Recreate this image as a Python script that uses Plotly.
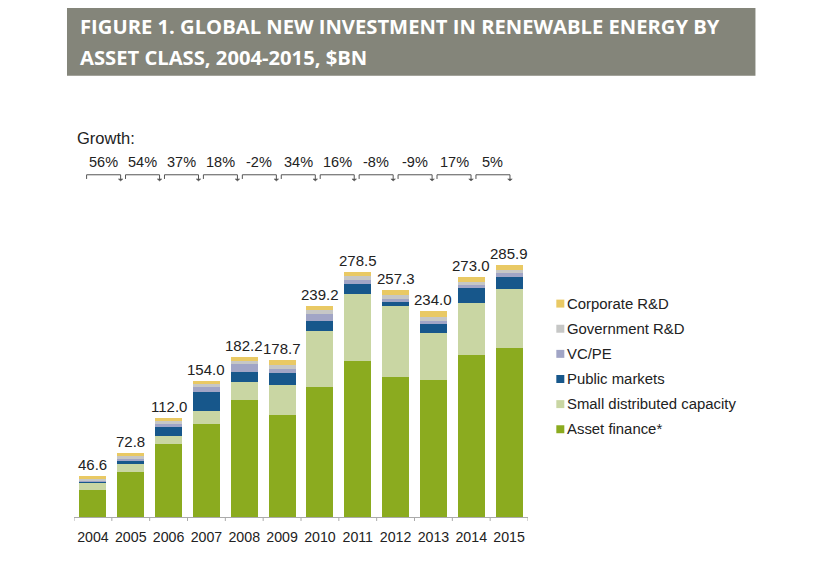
import plotly.graph_objects as go

years = ["2004", "2005", "2006", "2007", "2008", "2009", "2010", "2011", "2012", "2013", "2014", "2015"]
asset_finance = [31.0, 51.3, 83.0, 106.1, 132.4, 116.4, 147.9, 177.4, 159.2, 155.9, 184.2, 192.3]
small_distributed = [8.6, 9.4, 9.4, 14.7, 20.8, 34.0, 63.4, 76.2, 80.4, 53.6, 59.3, 67.2]
public_markets = [0.3, 3.8, 9.4, 21.1, 11.3, 13.2, 11.3, 10.6, 4.5, 10.2, 17.0, 13.2]
vc_pe = [0.6, 1.9, 3.8, 5.3, 8.7, 4.9, 8.3, 4.5, 3.0, 3.0, 3.0, 4.5]
government_rd = [2.4, 2.6, 3.4, 3.8, 4.5, 4.5, 3.8, 4.9, 4.5, 4.9, 3.8, 3.8]
corporate_rd = [3.7, 3.8, 3.0, 3.0, 4.5, 5.7, 4.5, 4.9, 5.7, 6.4, 5.7, 4.9]
totals = [46.6, 72.8, 112.0, 154.0, 182.2, 178.7, 239.2, 278.5, 257.3, 234.0, 273.0, 285.9]
growth = ["56%", "54%", "37%", "18%", "-2%", "34%", "16%", "-8%", "-9%", "17%", "5%"]

series = [
    ("Asset finance*", asset_finance, "#8bab1f"),
    ("Small distributed capacity", small_distributed, "#c9d6a3"),
    ("Public markets", public_markets, "#17578b"),
    ("VC/PE", vc_pe, "#a1a5c6"),
    ("Government R&D", government_rd, "#c6c7c6"),
    ("Corporate R&D", corporate_rd, "#e9c964"),
]

FONT = "Liberation Sans, Arial, sans-serif"
TXT = "#222222"

fig = go.Figure()
for name, vals, col in series:
    fig.add_trace(go.Bar(x=list(range(len(years))), y=vals, name=name,
                         marker=dict(color=col, line=dict(width=0)),
                         showlegend=False, hoverinfo="skip"))

# page offset of the plot div (body margin)
OFF = 8
# desired page-pixel geometry of the plot area
PL, PR, PT, PB = 74, 527.7, 199.6, 517.5
L = PL - OFF
T = PT - OFF
R_ = 815 - (PR - OFF)
B = 575 - (PB - OFF)
W = PR - PL
H = PB - PT


def px_to_paper_x(px):
    return (px - PL) / W


def py_to_paper_y(py):
    return (PB - py) / H


anns = []
shapes = []

# total labels
for i, tot in enumerate(totals):
    anns.append(dict(x=i, y=tot, xref="x", yref="y", text=f"{tot:.1f}", showarrow=False,
                     yanchor="bottom", yshift=1, font=dict(family=FONT, size=15, color=TXT)))

# banner
shapes.append(dict(type="rect", xref="paper", yref="paper", x0=px_to_paper_x(67), x1=px_to_paper_x(755),
                   y0=py_to_paper_y(75), y1=py_to_paper_y(7), fillcolor="#84857a", line=dict(width=0),
                   layer="below"))
for txt, cy in [("FIGURE 1. GLOBAL NEW INVESTMENT IN RENEWABLE ENERGY BY", 25),
                ("ASSET CLASS, 2004-2015, $BN", 56)]:
    anns.append(dict(x=px_to_paper_x(78), y=py_to_paper_y(cy), xref="paper", yref="paper", text=f"<b>{txt}</b>",
                     showarrow=False, xanchor="left", yanchor="middle",
                     font=dict(family="Liberation Sans Narrow, Open Sans, sans-serif", size=20.2, color="white")))

# growth row
anns.append(dict(x=px_to_paper_x(75), y=py_to_paper_y(137), xref="paper", yref="paper", text="Growth:",
                 showarrow=False, xanchor="left", yanchor="middle", font=dict(family=FONT, size=16.5, color=TXT)))
step = 38.9 / 37.8
blen = 34.0 / 37.8
x_start = -0.167
yt = py_to_paper_y(174.3)
yb = py_to_paper_y(178.5)
ya = py_to_paper_y(180.5)
for i, g in enumerate(growth):
    x0 = x_start + i * step
    x1 = x0 + blen
    anns.append(dict(x=(x0 + x1) / 2, y=py_to_paper_y(161.5), xref="x", yref="paper", text=g, showarrow=False,
                     xanchor="center", yanchor="middle", font=dict(family=FONT, size=14.5, color=TXT)))
    shapes.append(dict(type="path", xref="x", yref="paper",
                       path=f"M {x0},{yb} L {x0},{yt} L {x1},{yt} L {x1},{yb}",
                       line=dict(color="#555555", width=1)))
    shapes.append(dict(type="path", xref="x", yref="paper",
                       path=f"M {x1 - 0.06},{yb} L {x1 + 0.06},{yb} L {x1},{ya} Z",
                       fillcolor="#555555", line=dict(color="#555555", width=0.5)))

# manual legend
legend_rows = [("Corporate R&D", "#e9c964"), ("Government R&D", "#c6c7c6"), ("VC/PE", "#a1a5c6"),
               ("Public markets", "#17578b"), ("Small distributed capacity", "#c9d6a3"),
               ("Asset finance*", "#8bab1f")]
for k, (name, col) in enumerate(legend_rows):
    cy = 303.5 + k * 25.2
    shapes.append(dict(type="rect", xref="paper", yref="paper", x0=px_to_paper_x(556), x1=px_to_paper_x(564),
                       y0=py_to_paper_y(cy + 4), y1=py_to_paper_y(cy - 4), fillcolor=col, line=dict(width=0)))
    anns.append(dict(x=px_to_paper_x(565), y=py_to_paper_y(cy), xref="paper", yref="paper", text=name,
                     showarrow=False, xanchor="left", yanchor="middle",
                     font=dict(family=FONT, size=14.9, color=TXT)))

# boundary tick marks under the axis line
for b in range(len(years) + 1):
    shapes.append(dict(type="line", xref="x", yref="paper", x0=b - 0.5, x1=b - 0.5,
                       y0=0, y1=py_to_paper_y(PB + 4), line=dict(color="#aaaaaa", width=1)))

fig.update_layout(
    barmode="stack",
    bargap=0.285,
    width=815, height=575,
    margin=dict(l=L, r=R_, t=T, b=B, pad=0),
    paper_bgcolor="white", plot_bgcolor="white",
    font=dict(family=FONT, size=15, color=TXT),
    xaxis=dict(tickmode="array", tickvals=list(range(len(years))), ticktext=years, tickangle=0,
               showline=True, linecolor="#aaaaaa", linewidth=1, ticks="outside", ticklen=7,
               tickcolor="rgba(0,0,0,0)", showgrid=False,
               zeroline=False, tickfont=dict(family=FONT, size=14.2, color=TXT), range=[-0.5, 11.5]),
    yaxis=dict(visible=False, range=[0, 360], showgrid=False),
    annotations=anns,
    shapes=shapes,
)

fig.write_html("out.html")
